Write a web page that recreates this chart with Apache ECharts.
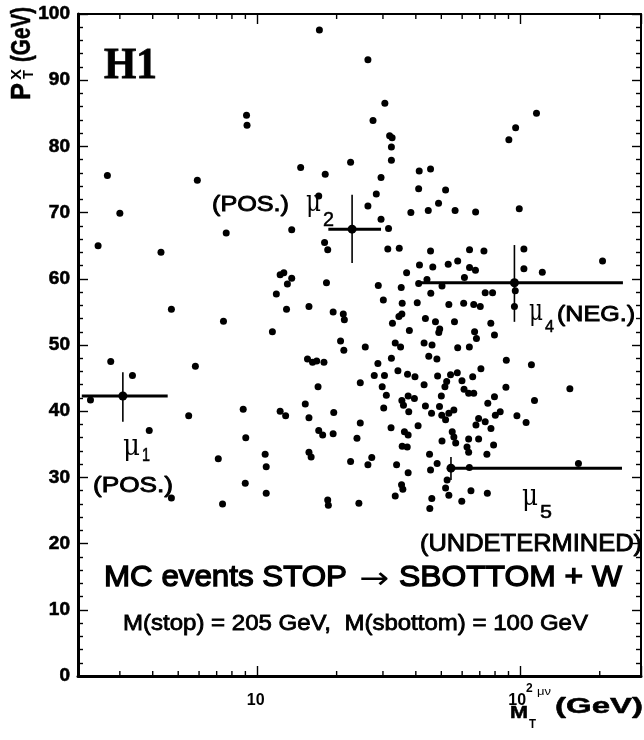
<!DOCTYPE html>
<html>
<head>
<meta charset="utf-8">
<script src="https://cdn.jsdelivr.net/npm/echarts@6/dist/echarts.min.js"></script>
<style>
  html, body { margin: 0; padding: 0; background: #fff; }
  #chart { width: 644px; height: 740px; }
</style>
</head>
<body>
<div id="chart"></div>
<script>
// Monte Carlo events: transverse mass of the muon-neutrino system (GeV)
const eventMT = [
  2.69, 3.0, 5.91, 2.48, 4.30, 4.71, 2.77, 3.35, 5.81, 2.32, 3.88, 5.48, 7.10, 4.71,
  17.2, 26.3, 30.5, 27.5, 9.09, 9.13, 31.8, 32.5, 32.3, 32.3, 22.6, 14.6, 18.1, 29.5,
  41.2, 45.5, 41.0, 28.3, 17.1, 26.3, 29.5, 38.3, 31.5, 7.61, 13.5, 18.0, 18.5, 31.3, 34.6,
  115, 95.8, 90.3, 51.9, 48.8, 44.6, 56.4, 67.5, 98.9, 64.0, 72.6, 103, 45.5, 205,
  12.2, 12.6, 13.5, 13.0, 11.8, 12.9, 18.3, 15.7, 19.4, 21.2, 21.4, 28.8, 30.1, 36.9,
  35.2, 35.5, 40.5, 41.3, 41.0, 34.5, 35.4, 32.6, 37.8, 7.43, 11.4, 20.7, 21.3, 25.7,
  33.4, 35.0, 32.3, 15.5, 16.2, 16.8, 17.9, 28.7, 27.8, 30.4, 34.2, 37.2, 39.7, 17.0,
  24.6, 29.8, 30.9, 35.4, 37.4, 39.5, 35.9, 37.6, 30.2, 8.83, 12.2, 12.8, 15.2, 15.7,
  19.5, 24.6, 32.2, 40.8, 9.03, 17.1, 17.7, 19.4, 23.9, 36.2, 37.4, 35.5, 37.1, 10.7,
  10.8, 15.7, 16.0, 22.6, 27.2, 26.3, 33.8, 37.4, 8.99, 10.8, 35.3, 35.7, 33.4, 7.37,
  18.5, 18.6, 24.3, 46.4, 53.1, 57.7, 64.0, 67.4, 103, 121, 44.1, 61.2, 50.3, 45.6,
  73.4, 78.3, 95.5, 94.8, 53.4, 60.8, 66.4, 70.3, 43.5, 47.5, 49.3, 48.9, 56.1, 77.1,
  66.9, 68.0, 79.6, 43.0, 46.1, 57.7, 63.9, 44.8, 48.1, 88.3, 110, 70.7, 57.5, 54.2,
  48.4, 65.8, 52.4, 59.9, 43.0, 61.0, 63.5, 66.4, 51.6, 88.0, 154, 50.0, 79.6, 75.1,
  113, 43.5, 49.2, 45.9, 50.2, 53.4, 55.8, 51.9, 80.2, 83.7, 96.9, 105, 69.3, 67.7,
  73.4, 77.2, 55.0, 55.8, 50.3, 56.7, 63.5, 69.3, 62.6, 63.5, 79.0, 74.5, 45.1, 48.2,
  45.5, 63.9, 166, 52.6, 51.9, 53.4, 46.0, 64.8, 74.8, 45.2, 59.8
];
// Monte Carlo events: transverse momentum of the hadronic final state (GeV)
const eventPT = [
  75.6, 69.9, 74.9, 65.0, 64.0, 55.4, 47.5, 45.4, 46.8, 41.7, 37.1, 39.3, 32.8, 26.9,
  97.6, 93.1, 86.5, 83.9, 84.7, 83.2, 81.6, 81.3, 79.9, 77.9, 77.6, 76.8, 75.8, 75.3,
  76.3, 76.6, 73.6, 72.8, 72.5, 71.0, 69.0, 70.0, 67.6, 66.9, 67.4, 65.5, 64.4, 64.5, 64.6,
  85.0, 82.8, 81.0, 73.4, 71.4, 70.3, 70.3, 70.1, 70.6, 64.4, 64.2, 64.5, 64.2, 62.7,
  60.6, 60.9, 60.1, 59.2, 57.7, 55.4, 59.4, 55.8, 55.0, 54.7, 53.8, 59.0, 56.8, 60.9,
  58.7, 56.3, 56.4, 62.1, 59.3, 54.3, 54.7, 53.3, 52.2, 53.6, 52.0, 50.6, 49.2, 49.7,
  50.3, 49.7, 48.0, 47.9, 47.4, 47.6, 47.4, 47.2, 45.4, 45.4, 46.1, 45.6, 45.2, 43.7,
  44.3, 43.7, 42.4, 41.6, 42.3, 41.9, 40.9, 39.9, 40.5, 40.3, 40.0, 39.3, 41.1, 39.0,
  39.8, 38.2, 37.5, 37.8, 36.0, 37.1, 36.4, 36.6, 35.9, 36.9, 36.4, 34.7, 34.6, 33.5,
  31.6, 33.8, 33.1, 32.4, 33.0, 31.9, 31.9, 30.7, 29.1, 27.6, 28.9, 28.2, 27.2, 26.0,
  26.6, 25.8, 26.1, 61.8, 62.2, 62.7, 61.7, 61.3, 61.5, 61.0, 59.9, 60.2, 58.9, 57.8,
  57.9, 57.9, 58.2, 55.8, 56.1, 56.3, 56.1, 55.8, 54.0, 53.5, 52.4, 51.9, 53.5, 53.3,
  52.0, 51.0, 51.5, 50.3, 50.0, 49.6, 49.7, 48.3, 47.9, 47.7, 47.0, 46.4, 45.8, 45.5,
  45.3, 45.2, 44.5, 44.6, 44.0, 43.3, 42.7, 42.7, 43.7, 43.6, 43.4, 42.3, 42.2, 41.2,
  41.6, 40.8, 40.7, 39.7, 39.4, 39.7, 40.2, 38.7, 39.4, 39.9, 39.3, 38.3, 38.9, 37.9,
  38.4, 37.4, 36.9, 36.1, 35.5, 35.2, 35.8, 35.8, 34.6, 33.8, 34.9, 33.5, 33.5, 32.1,
  31.1, 31.5, 32.1, 29.6, 28.4, 27.3, 26.8, 28.0, 27.6, 25.3, 26.4
];

// Observed muon candidates with their measurement errors
const muonMT     = [3.08, 22.9, 94.8, 54.4];
const muonPT     = [42.3, 67.5, 59.4, 31.4];
const muonMTLow  = [2.15, 18.6, 40.4, 54.4];
const muonMTHigh = [4.56, 29.5, 245, 243];
const muonPTLow  = [38.4, 62.4, 53.5, 29.6];
const muonPTHigh = [45.9, 72.7, 65.1, 33.1];

// Log axis minor tick positions and y-axis range
const xMinorTicks = [3, 4, 5, 6, 7, 8, 9, 20, 30, 40, 50, 60, 70, 80, 90, 200];
const X_MIN = 2.08, X_MAX = 287;
const Y_MIN = 0, Y_MAX = 100, Y_STEP = 10;

const SANS = "'Liberation Sans', Arial, Helvetica, sans-serif";
const SERIF = "'DejaVu Serif', 'Liberation Serif', serif";

const measureCtx = document.createElement('canvas').getContext('2d');
function textWidth(str, font) {
  measureCtx.font = font;
  return measureCtx.measureText(str).width;
}
// Text fitted horizontally between left and right, centred vertically on cy
function fitText(str, left, right, cy, size, opts) {
  opts = opts || {};
  const weight = opts.weight || 'normal';
  const family = opts.family || SANS;
  const w = textWidth(str, weight + ' ' + size + 'px ' + family);
  return {
    type: 'text',
    x: left, y: cy,
    scaleX: (right - left) / w,
    silent: true,
    style: {
      text: str, x: 0, y: 0,
      fontSize: size, fontWeight: weight, fontFamily: family,
      fill: '#000', align: 'left', verticalAlign: 'middle',
      stroke: opts.stroke ? '#000' : null,
      lineWidth: opts.stroke || 0
    }
  };
}

const chart = echarts.init(document.getElementById('chart'), null, { renderer: 'canvas' });

const tickStyle = { color: '#000', width: 1.4 };
const labelRich = {
  n: { fontSize: 16, fontWeight: 'bold', fontFamily: SANS, color: '#000', verticalAlign: 'bottom' },
  s: { fontSize: 12, fontWeight: 'bold', fontFamily: SANS, color: '#000', padding: [0, 0, 14, 0] }
};

const option = {
  animation: false,
  backgroundColor: '#fff',
  grid: { left: 78, right: 1, top: 14, bottom: 64 },
  xAxis: [
    {
      type: 'log', logBase: 10, min: X_MIN, max: X_MAX, position: 'bottom',
      axisLine: { show: true, onZero: false, lineStyle: { color: '#000', width: 3 } },
      axisTick: { show: true, inside: true, length: 10, lineStyle: tickStyle },
      axisLabel: {
        margin: 7, showMinLabel: true, showMaxLabel: true,
        formatter: function (v) {
          if (Math.abs(v - 10) < 1e-6) return '{n|10}{s| }';
          if (Math.abs(v - 100) < 1e-6) return '{n|10}{s|2}';
          return '';
        },
        rich: labelRich
      },
      splitLine: { show: false }
    },
    {
      type: 'log', logBase: 10, min: X_MIN, max: X_MAX, position: 'top',
      axisLine: { show: true, onZero: false, lineStyle: { color: '#000', width: 2 } },
      axisTick: { show: true, inside: true, length: 10, lineStyle: tickStyle },
      axisLabel: { show: false },
      splitLine: { show: false }
    }
  ],
  yAxis: [
    {
      type: 'value', min: Y_MIN, max: Y_MAX, interval: Y_STEP, position: 'left',
      axisLine: { show: true, onZero: false, lineStyle: { color: '#000', width: 3 } },
      axisTick: { show: true, inside: true, length: 10, lineStyle: tickStyle },
      minorTick: { show: true, splitNumber: 5, length: 5, lineStyle: tickStyle },
      axisLabel: {
        margin: 8, fontSize: 19, fontWeight: 'bold', fontFamily: SANS, color: '#000',
        textBorderColor: '#000', textBorderWidth: 0.6
      },
      splitLine: { show: false }
    },
    {
      type: 'value', min: Y_MIN, max: Y_MAX, interval: Y_STEP, position: 'right',
      axisLine: { show: true, onZero: false, lineStyle: { color: '#000', width: 2 } },
      axisTick: { show: true, inside: true, length: 9, lineStyle: tickStyle },
      minorTick: { show: true, splitNumber: 5, length: 5, lineStyle: tickStyle },
      axisLabel: { show: false },
      splitLine: { show: false }
    }
  ],
  series: [
    {
      name: 'MC events',
      type: 'scatter',
      xAxisIndex: 0, yAxisIndex: 0,
      symbol: 'circle', symbolSize: 7,
      itemStyle: { color: '#000', opacity: 1 },
      silent: true,
      data: eventMT.map((v, i) => [v, eventPT[i]])
    },
    {
      name: 'muon candidates',
      type: 'custom',
      xAxisIndex: 0, yAxisIndex: 0,
      encode: { x: 0, y: 1 },
      silent: true, clip: false,
      data: muonMT.map((v, i) => [v, muonPT[i], muonMTLow[i], muonMTHigh[i], muonPTLow[i], muonPTHigh[i]]),
      renderItem: function (params, api) {
        const c = api.coord([api.value(0), api.value(1)]);
        const xl = api.coord([api.value(2), api.value(1)]);
        const xh = api.coord([api.value(3), api.value(1)]);
        const yl = api.coord([api.value(0), api.value(4)]);
        const yh = api.coord([api.value(0), api.value(5)]);
        return {
          type: 'group',
          children: [
            { type: 'line', shape: { x1: xl[0], y1: xl[1], x2: xh[0], y2: xh[1] },
              style: { stroke: '#000', lineWidth: 3 } },
            { type: 'line', shape: { x1: yl[0], y1: yl[1], x2: yh[0], y2: yh[1] },
              style: { stroke: '#000', lineWidth: 1.6 } },
            { type: 'circle', shape: { cx: c[0], cy: c[1], r: 4.5 },
              style: { fill: '#000' } }
          ]
        };
      }
    },
    {
      name: 'log minor ticks',
      type: 'custom',
      xAxisIndex: 0, yAxisIndex: 0,
      encode: { x: 0 },
      silent: true, clip: false,
      data: xMinorTicks.map(v => [v, Y_MIN]),
      renderItem: function (params, api) {
        const b = api.coord([api.value(0), Y_MIN]);
        const t = api.coord([api.value(0), Y_MAX]);
        return {
          type: 'group',
          children: [
            { type: 'line', shape: { x1: b[0], y1: b[1], x2: b[0], y2: b[1] - 5 },
              style: { stroke: '#000', lineWidth: 1.4 } },
            { type: 'line', shape: { x1: t[0], y1: t[1], x2: t[0], y2: t[1] + 5 },
              style: { stroke: '#000', lineWidth: 1.4 } }
          ]
        };
      }
    }
  ],
  graphic: [
    // experiment tag
    fitText('H1', 104, 157, 67, 44, { weight: 'bold', family: "'Liberation Serif', 'DejaVu Serif', serif", stroke: 0.8 }),
    // muon labels
    fitText('(POS.)', 93, 173, 486, 22, { stroke: 0.9 }),
    fitText('μ', 123, 140, 447, 30, { family: SERIF }),
    fitText('1', 142, 150, 456.5, 18, { stroke: 0.5 }),
    fitText('(POS.)', 212, 289, 205, 22, { stroke: 0.9 }),
    fitText('μ', 306, 321, 203, 30, { family: SERIF }),
    fitText('2', 323, 334, 220.5, 20, { stroke: 0.5 }),
    fitText('μ', 529, 543, 312, 30, { family: SERIF }),
    fitText('4', 545, 554, 327, 17, { stroke: 0.5 }),
    fitText('(NEG.)', 557, 635, 315, 22, { stroke: 0.9 }),
    fitText('μ', 522, 538, 497, 30, { family: SERIF }),
    fitText('5', 540, 552, 513.5, 18, { stroke: 0.5 }),
    fitText('(UNDETERMINED)', 420, 642, 544, 24, { stroke: 0.9 }),
    // process description
    fitText('MC events STOP', 104, 347, 577.5, 30, { stroke: 1.3 }),
    fitText('\u2192', 359, 389, 580, 30, { family: "'DejaVu Sans', sans-serif" }),
    fitText('SBOTTOM + W', 399, 622, 577.5, 30, { stroke: 1.3 }),
    fitText('M(stop) = 205 GeV,  M(sbottom) = 100 GeV', 123, 588, 624, 22, { stroke: 0.8 }),
    // x-axis title
    fitText('M', 510, 528, 713, 17, { weight: 'bold', stroke: 0.5 }),
    fitText('T', 529, 536, 725, 12, { weight: 'bold' }),
    fitText('μν', 537, 551, 692, 11, {}),
    fitText('(GeV)', 555, 643, 707, 22, { weight: 'bold', stroke: 0.5 }),
    // y-axis title, reading upwards
    {
      type: 'group',
      x: 22.5, y: 100,
      rotation: Math.PI / 2,
      children: [
        fitText('P', 0, 17, 0, 28, { weight: 'bold', stroke: 0.5 }),
        fitText('X', 20, 31, -5.5, 15, { weight: 'bold' }),
        fitText('T', 21, 30, 6.5, 15, { weight: 'bold' }),
        fitText('(GeV)', 38, 93, 0, 28, { weight: 'bold', stroke: 0.5 })
      ]
    }
  ]
};

chart.setOption(option);
</script>
</body>
</html>
